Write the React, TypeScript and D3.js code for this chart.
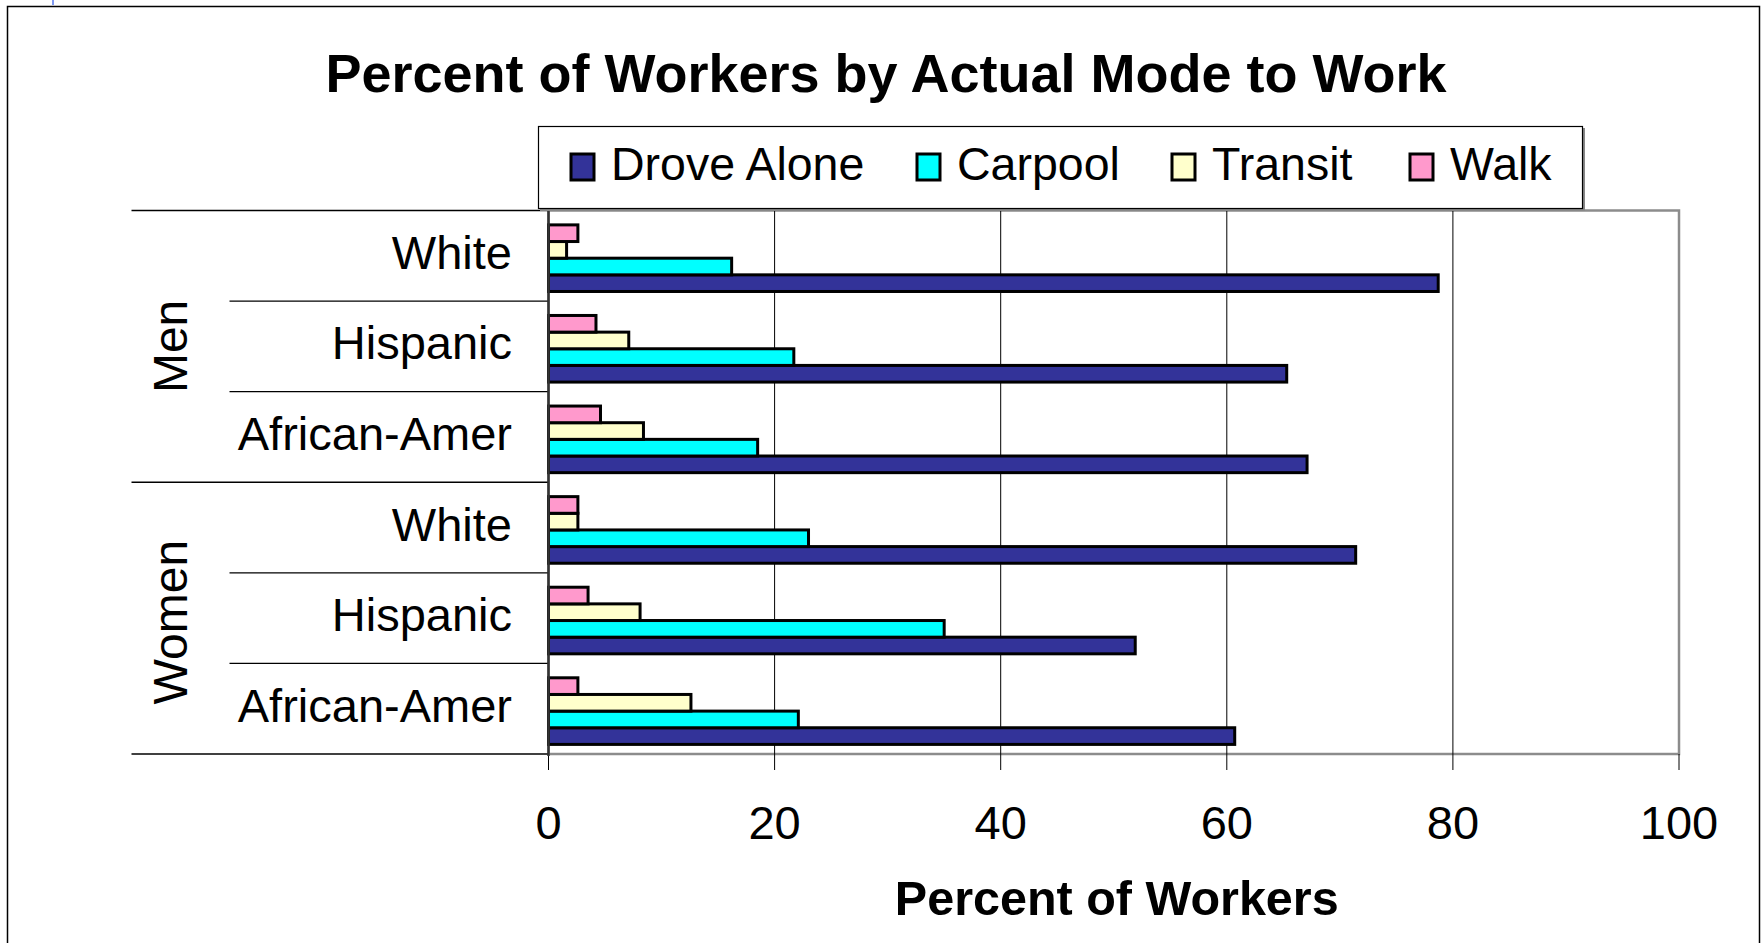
import React from "react";
import * as d3 from "d3";

const categories = ["White", "Hispanic", "African-Amer", "White", "Hispanic", "African-Amer"];
const groups = ["Men", "Women"];
const seriesNames = ["Drove Alone", "Carpool", "Transit", "Walk"];
const seriesColors = ["#333399", "#00FFFF", "#FFFFCC", "#FF99CC"];
const droveAlone = [78.7, 65.3, 67.1, 71.4, 51.9, 60.7];
const carpool = [16.2, 21.7, 18.5, 23.0, 35.0, 22.1];
const transit = [1.6, 7.1, 8.4, 2.6, 8.1, 12.6];
const walk = [2.6, 4.2, 4.6, 2.6, 3.5, 2.6];
const xTicks = [0, 20, 40, 60, 80, 100];

const seriesValues = [droveAlone, carpool, transit, walk];

const FONT = "'Liberation Sans', Arial, Helvetica, sans-serif";

export default function App() {
  const W = 1764, H = 943;
  const plotL = 548.5, plotR = 1679, plotT = 210.5, plotB = 754;
  const x = d3.scaleLinear().domain([0, 100]).range([plotL, plotR]);
  const keys = categories.map((_, i) => String(i));
  const y = d3.scaleBand().domain(keys).range([plotT, plotB]).paddingInner(0).paddingOuter(0);
  // series order: Walk at top, Drove Alone at bottom
  const inner = d3.scaleBand().domain(["3", "2", "1", "0"]).range([0, y.bandwidth()]).paddingInner(0).paddingOuter(0.72).align(0.6);

  const groupSize = categories.length / groups.length;
  const legendX = [571, 917, 1172, 1410];

  return (
    <svg width={W} height={H} style={{ position: "absolute", left: 0, top: 0, background: "#fff" }} fontFamily={FONT}>
      <rect x={0} y={0} width={W} height={H} fill="#fff" />
      {/* outer chart border */}
      <rect x={7.5} y={6.5} width={1752} height={H + 10} fill="none" stroke="#000" strokeWidth={1.5} />
      <line x1={53} x2={53} y1={0} y2={5} stroke="#5577ee" strokeWidth={1.5} />

      {/* title */}
      <text x={886} y={92} textAnchor="middle" fontSize={54} fontWeight="bold" fill="#000">
        Percent of Workers by Actual Mode to Work
      </text>

      {/* plot area border */}
      <rect x={plotL} y={plotT} width={plotR - plotL} height={plotB - plotT} fill="#fff" stroke="#8c8c8c" strokeWidth={2.5} />

      {/* gridlines */}
      {xTicks.filter(t => t > 0 && t < 100).map(t => (
        <line key={"g" + t} x1={x(t)} x2={x(t)} y1={plotT} y2={plotB} stroke="#000" strokeWidth={1} />
      ))}

      {/* x ticks */}
      {xTicks.map(t => (
        <g key={"t" + t}>
          <line x1={x(t)} x2={x(t)} y1={plotB} y2={770} stroke="#000" strokeWidth={1} />
          <text x={x(t)} y={839} textAnchor="middle" fontSize={47} fill="#000">{t}</text>
        </g>
      ))}

      {/* bars */}
      {keys.map((k, ci) => (
        <g key={"c" + k} transform={`translate(0,${y(k)})`}>
          {seriesValues.map((vals, si) => (
            <rect
              key={si}
              x={x(0)}
              y={inner(String(si))}
              width={x(vals[ci]) - x(0)}
              height={inner.bandwidth()}
              fill={seriesColors[si]}
              stroke="#000"
              strokeWidth={3}
            />
          ))}
        </g>
      ))}

      {/* category separators */}
      {d3.range(categories.length + 1).map(i => {
        const yy = i < categories.length ? (y(String(i)) as number) : plotB;
        const isGroup = i % groupSize === 0;
        return (
          <line key={"s" + i} x1={isGroup ? 131.5 : 229.5} x2={plotL} y1={yy} y2={yy} stroke="#000" strokeWidth={1.3} />
        );
      })}

      {/* y axis line */}
      <line x1={plotL} x2={plotL} y1={plotT} y2={plotB + 2} stroke="#333" strokeWidth={2.5} />

      {/* category labels */}
      {categories.map((c, i) => (
        <text key={"l" + i} x={512} y={(y(String(i)) as number) + y.bandwidth() / 2 + 13} textAnchor="end" fontSize={47} fill="#000">
          {c}
        </text>
      ))}

      {/* group labels */}
      {groups.map((g, gi) => {
        const y0 = y(String(gi * groupSize)) as number;
        const y1 = (y(String(gi * groupSize + groupSize - 1)) as number) + y.bandwidth();
        const cy = (y0 + y1) / 2 + (gi === 1 ? 4 : 0);
        return (
          <text key={"gr" + g} transform={`translate(187,${cy}) rotate(-90)`} textAnchor="middle" fontSize={48} fill="#000">
            {g}
          </text>
        );
      })}

      {/* x axis title */}
      <text x={(plotL + plotR) / 2 + 3} y={915} textAnchor="middle" fontSize={48.5} fontWeight="bold" fill="#000">
        Percent of Workers
      </text>

      {/* legend */}
      <rect x={540} y={128} width={1045} height={83} fill="#888" />
      <rect x={538.5} y={126.5} width={1044} height={82} fill="#fff" stroke="#000" strokeWidth={1.2} />
      {seriesNames.map((s, i) => (
        <g key={"lg" + s}>
          <rect x={legendX[i]} y={154} width={23} height={26} fill={seriesColors[i]} stroke="#000" strokeWidth={3} />
          <text x={legendX[i] + 40} y={180} fontSize={46.5} fill="#000">{s}</text>
        </g>
      ))}
    </svg>
  );
}
